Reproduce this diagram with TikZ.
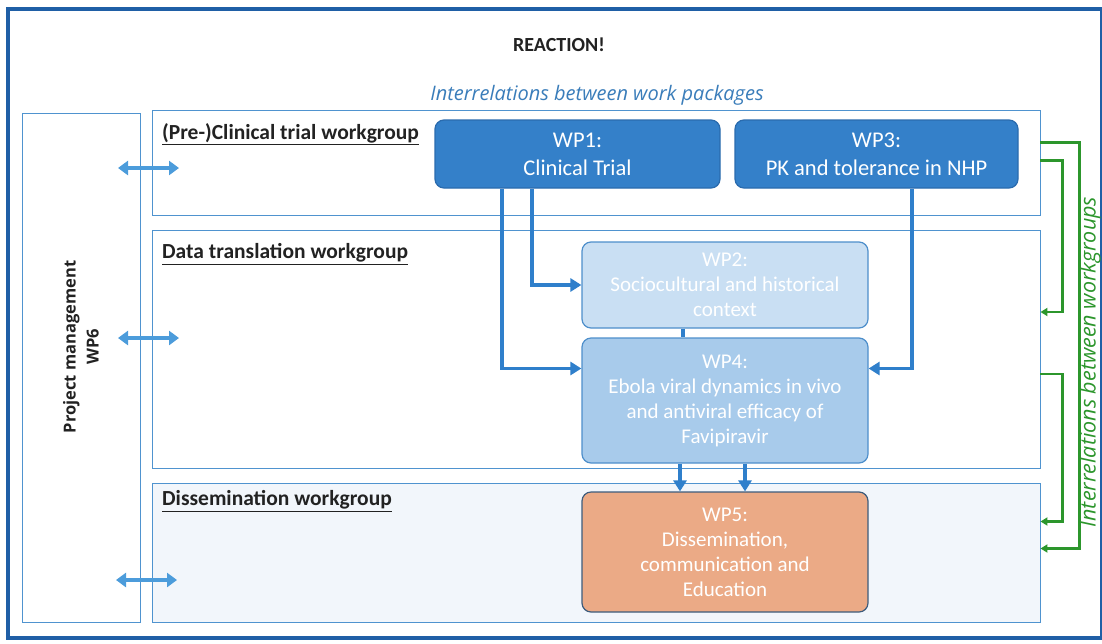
\documentclass[tikz,border=0pt]{standalone}
\usepackage{fontspec}
\setmainfont{Carlito}
\newfontfamily\osans{Open Sans}
\usetikzlibrary{arrows.meta}
\definecolor{frameblue}{HTML}{1F5FA6}
\definecolor{rowblue}{HTML}{4F93CF}
\definecolor{darkwp}{HTML}{3480C9}
\definecolor{darkwpline}{HTML}{2A6BAE}
\definecolor{wptwo}{HTML}{C9DFF3}
\definecolor{wpfour}{HTML}{A8CBEB}
\definecolor{wplightline}{HTML}{4E8FCB}
\definecolor{wpfive}{HTML}{EBAA86}
\definecolor{wpfiveline}{HTML}{3D5C7C}
\definecolor{connblue}{HTML}{2F7FCB}
\definecolor{dblblue}{HTML}{4C9CDB}
\definecolor{greenc}{HTML}{2C962C}
\definecolor{textdark}{HTML}{222222}
\definecolor{italblue}{HTML}{3A7DBA}
\definecolor{rowfill}{HTML}{F2F6FB}
\tikzset{
  rowbox/.style={draw=rowblue, line width=0.9pt, inner sep=0pt},
  wpbox/.style={rounded corners=9pt, line width=1.2pt, align=center, text=white, inner sep=0pt,
     font=\fontsize{21}{25}\selectfont},
  wpdark/.style={wpbox, fill=darkwp, draw=darkwpline, font=\fontsize{22.5}{28}\selectfont},
  wplight/.style={wpbox, fill=wptwo, draw=wplightline},
  wpmid/.style={wpbox, fill=wpfour, draw=wplightline},
  wporange/.style={wpbox, fill=wpfive, draw=wpfiveline},
  grouplabel/.style={anchor=west, inner sep=0pt, text=textdark, font=\fontsize{21.5}{24}\selectfont\bfseries},
  conn/.style={draw=connblue, line width=3.2pt, -{Triangle[length=11pt,width=13pt]}},
  plainconn/.style={draw=connblue, line width=3.2pt},
  dbl/.style={draw=dblblue, line width=3.5pt, {Triangle[length=10pt,width=14pt]}-{Triangle[length=10pt,width=14pt]}},
  grn/.style={draw=greenc, line width=2.2pt, -{Triangle[length=7pt,width=8pt]}}
}
\begin{document}
\begin{tikzpicture}[x=1pt,y=-1pt]
\useasboundingbox (0,0) rectangle (1102,643);
\fill[white] (0,0) rectangle (1102,643);
% outer frame
\draw[frameblue, line width=3.5pt] (8,9) rectangle (1102,638);

\node[text=textdark, font=\fontsize{20}{22}\selectfont\bfseries] (title) at (559,45) {REACTION!};
\node[text=italblue, font=\osans\fontsize{20}{22}\selectfont\itshape] (wplabel) at (597,95) {Interrelations between work packages};

% rows and project management panel
\node[rowbox, minimum width=118pt, minimum height=509pt] (pm) at (81,367.5) {};
\node[rowbox, minimum width=888pt, minimum height=105pt] (row1) at (596,162.5) {};
\node[rowbox, minimum width=888pt, minimum height=238pt] (row2) at (596,349) {};
\node[rowbox, fill=rowfill, minimum width=888pt, minimum height=139pt] (row3) at (596,552.5) {};

\node[rotate=90, align=center, text=textdark, font=\osans\fontsize{16.5}{23}\selectfont\bfseries] (pmtext) at (81,347) {Project management\\WP6};

\node[grouplabel] (g1) at (162,134) {\underline{(Pre-)Clinical trial workgroup}};
\node[grouplabel] (g2) at (162,254) {\underline{Data translation workgroup}};
\node[grouplabel] (g3) at (162,501) {\underline{Dissemination workgroup}};

% work packages
\node[wpdark, minimum width=285pt, minimum height=68pt] (wp1) at (577.5,154) {WP1:\\Clinical Trial};
\node[wpdark, minimum width=283pt, minimum height=68pt] (wp3) at (876.5,154) {WP3:\\PK and tolerance in NHP};
\node[wplight, minimum width=286pt, minimum height=86pt] (wp2) at (725,285) {WP2:\\Sociocultural and historical\\context};
\node[wpmid, minimum width=286pt, minimum height=125pt] (wp4) at (725,400.5) {WP4:\\Ebola viral dynamics in vivo\\and antiviral efficacy of\\Favipiravir};
\node[wporange, minimum width=286pt, minimum height=120pt] (wp5) at (725,552) {WP5:\\Dissemination,\\communication and\\Education};

% blue connectors
\draw[conn] ([xshift=-45.5pt]wp1.south) |- (wp2.west);
\draw[conn] ([xshift=-75.5pt]wp1.south) |- ([yshift=32pt]wp4.west);
\draw[conn] ([xshift=35.5pt]wp3.south) |- ([yshift=32pt]wp4.east);
\draw[plainconn] ([xshift=-42pt]wp2.south) -- ([xshift=-42pt]wp4.north);
\draw[conn] ([xshift=-45pt]wp4.south) -- ([xshift=-45pt]wp5.north);
\draw[conn] ([xshift=20pt]wp4.south) -- ([xshift=20pt]wp5.north);

% double arrows between project management and rows
\coordinate (d1l) at (118,168);
\coordinate (d1r) at (179,168);
\coordinate (d2l) at (118,338);
\coordinate (d2r) at (179,338);
\coordinate (d3l) at (116,580);
\coordinate (d3r) at (177,580);
\draw[dbl] (d1l) -- (d1r);
\draw[dbl] (d2l) -- (d2r);
\draw[dbl] (d3l) -- (d3r);

% green connectors
\draw[grn] ([yshift=20pt]row1.east) -- ++(39,0) |- ([yshift=4pt]row3.east);
\draw[grn] ([yshift=2pt]row1.east) -- ++(22,0) |- ([yshift=37pt]row2.east);
\draw[grn] ([yshift=-25pt]row2.east) -- ++(22,0) |- ([yshift=31pt]row3.east);

\node[rotate=90, text=greenc, font=\osans\fontsize{21.5}{24}\selectfont\itshape] (grnlabel) at (1090,362) {Interrelations between workgroups};
\end{tikzpicture}
\end{document}
